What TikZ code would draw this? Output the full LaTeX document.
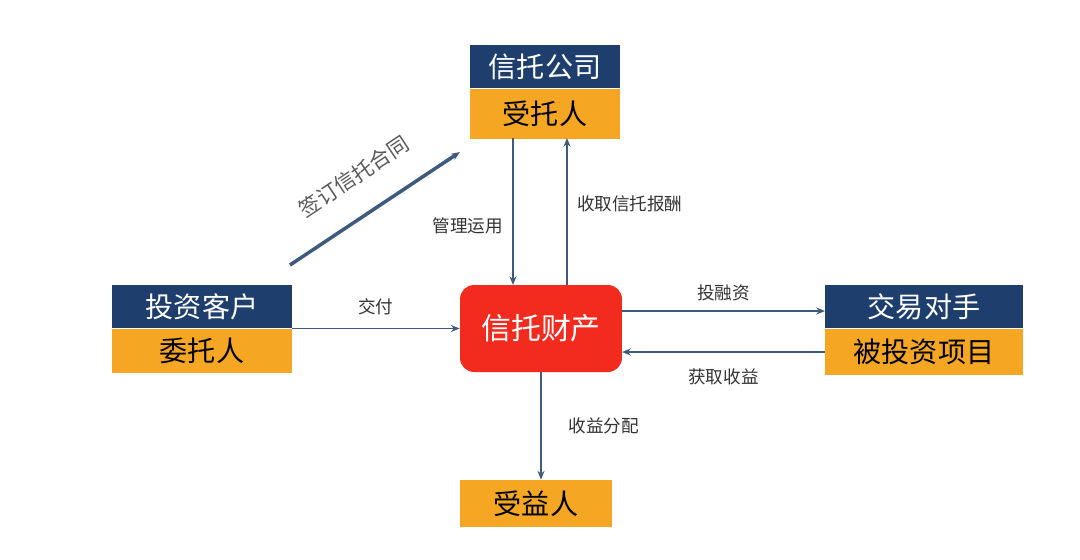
\documentclass[tikz,border=0pt]{standalone}
\usepackage{fontspec}
\setmainfont{Noto Sans CJK SC}
\usetikzlibrary{positioning, arrows.meta}
\definecolor{navy}{HTML}{1E3F6E}
\definecolor{gold}{HTML}{F5A623}
\definecolor{alarm}{HTML}{F22B1E}
\definecolor{wire}{HTML}{3E5B7C}

\begin{document}
\begin{tikzpicture}[x=0.02cm,y=-0.02cm,
    top/.style={fill=navy,text=white,font=\fontsize{16}{16}\selectfont,inner sep=0pt},
    bottom/.style={fill=gold,text=black,font=\fontsize{16}{16}\selectfont,inner sep=0pt},
    lbl/.style={font=\fontsize{10}{10}\selectfont,text=black!80},
    flow/.style={->,>={Stealth[length=5pt,width=4pt]},wire,thick}]
    \useasboundingbox (0,0) rectangle (1080,559);
    % trustee
    \node[top, minimum width=3cm, minimum height=0.86cm] (gs) at (545,66.5) {信托公司};
    \node[bottom, minimum width=3cm, minimum height=1cm, below=0pt of gs] (st) {受托人};
    % client
    \node[top, minimum width=3.6cm, minimum height=0.86cm] (kh) at (202,306.5) {投资客户};
    \node[bottom, minimum width=3.6cm, minimum height=0.88cm, below=0pt of kh] (wt) {委托人};
    % counterpart
    \node[top, minimum width=3.96cm, minimum height=0.86cm] (ds) at (924,306.5) {交易对手};
    \node[bottom, minimum width=3.96cm, minimum height=0.92cm, below=0pt of ds] (xm) {被投资项目};
    % property
    \node[fill=alarm, text=white, rounded corners=8pt, minimum width=3.24cm, minimum height=1.74cm,
        font=\fontsize{17}{17}\selectfont] (cc) at (541,328.5) {信托财产};
    % beneficiary
    \node[bottom, minimum width=3.04cm, minimum height=0.94cm] (sy) at (536,503.5) {受益人};

    \draw[flow] (513,138) -- node[lbl, left=2pt, pos=0.6] {管理运用} (513,285);
    \draw[flow] (567,285) -- node[lbl, right=2pt, pos=0.55] {收取信托报酬} (567,138);
    \draw[flow] (292,328.5) -- node[lbl, above=4pt] {交付} (cc.west);
    \draw[flow] (622,311) -- node[lbl, above=2pt] {投融资} (825,311);
    \draw[flow] (825,352) -- node[lbl, below=6pt] {获取收益} (622,352);
    \draw[flow] (cc.south) -- node[lbl, right=12pt] {收益分配} (sy.north -| cc.south);
    \draw[flow, line width=2pt] (290,265) -- node[lbl, sloped, above=12pt,
        font=\fontsize{12}{12}\selectfont, text=black!65] {签订信托合同} (460,152);
\end{tikzpicture}
\end{document}
